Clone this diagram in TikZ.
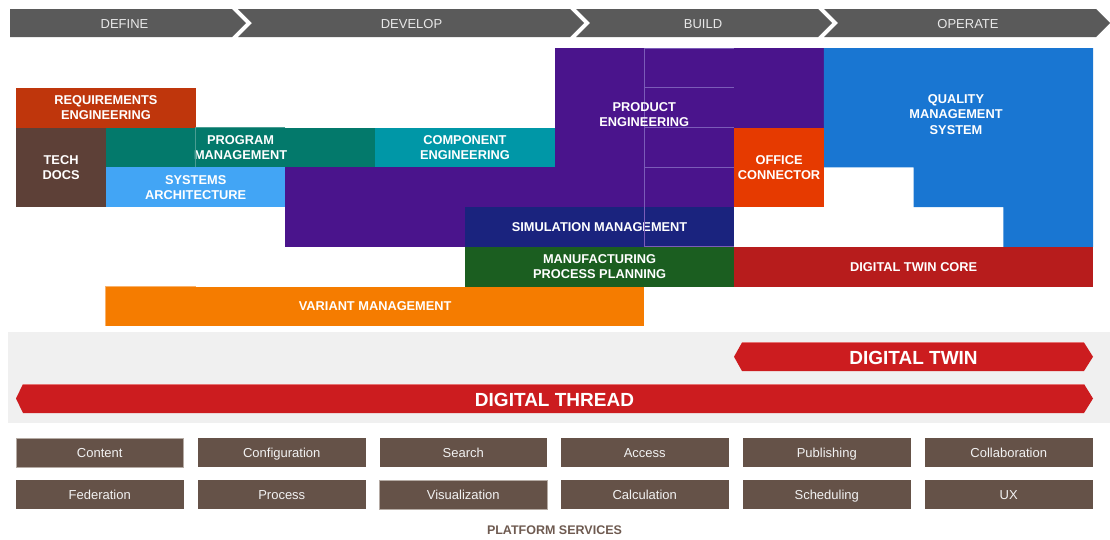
\documentclass[tikz,border=0pt]{standalone}
\usepackage{fontspec}
\setmainfont{Liberation Sans}
\definecolor{banner}{HTML}{5A5A5A}
\definecolor{phasetxt}{HTML}{E8E8E8}
\definecolor{reqc}{HTML}{BF360C}
\definecolor{techc}{HTML}{5D4037}
\definecolor{progc}{HTML}{03796B}
\definecolor{progline}{HTML}{4A9D92}
\definecolor{compc}{HTML}{0097A7}
\definecolor{sysc}{HTML}{42A5F5}
\definecolor{purc}{HTML}{4A148C}
\definecolor{purline}{HTML}{7B5CB8}
\definecolor{officec}{HTML}{E63A00}
\definecolor{qmsc}{HTML}{1976D2}
\definecolor{simc}{HTML}{1A237E}
\definecolor{manc}{HTML}{1B5E20}
\definecolor{dtcc}{HTML}{B71C1C}
\definecolor{varc}{HTML}{F57C00}
\definecolor{varline}{HTML}{F9B26B}
\definecolor{arrowred}{HTML}{CC1C1F}
\definecolor{arrowtop}{HTML}{E57373}
\definecolor{panelc}{HTML}{F0F0F0}
\definecolor{svcc}{HTML}{655248}
\definecolor{svcline}{HTML}{B5ABA4}
\definecolor{svctxt}{HTML}{F2F2F2}
\definecolor{footc}{HTML}{6E5A50}
\tikzset{
  phase/.style={text=phasetxt, font=\fontsize{13}{15}\selectfont, inner sep=0pt, text height=9.3pt, text depth=0pt},
  lbl/.style={text=white, font=\bfseries\fontsize{12.8}{15.3}\selectfont, align=center, inner sep=0pt},
  blockbox/.style={lbl, anchor=north west},
  bigarrow/.style={fill=arrowred},
  bigtext/.style={text=white, font=\bfseries\fontsize{19}{21}\selectfont, inner sep=0pt},
  svc/.style={fill=svcc, text=svctxt, font=\fontsize{13}{15}\selectfont, minimum width=167.5pt, minimum height=29pt, inner sep=0pt, text height=9.3pt, text depth=0pt},
  gridline/.style={draw=purline, line width=0.8pt},
}
\newcommand\cell[7]{% name, x1, y1, x2, y2, colour, text
  \node[blockbox, fill=#6, minimum width={(#4-#2)*1pt}, minimum height={(#5-#3)*1pt}] (#1) at (#2,#3) {#7};
}
\begin{document}
\begin{tikzpicture}[x=1pt,y=-1pt]
\useasboundingbox (0,0) rectangle (1110,539);

% ---- phase banner
\fill[banner] (10,9) -- (232,9) -- (246,23) -- (232,37) -- (10,37) -- cycle;
\fill[banner] (238,9) -- (570,9) -- (584,23) -- (570,37) -- (238,37) -- (252,23) -- cycle;
\fill[banner] (576,9) -- (818,9) -- (832,23) -- (818,37) -- (576,37) -- (590,23) -- cycle;
\fill[banner] (824,9) -- (1096,9) -- (1110,23) -- (1096,37) -- (824,37) -- (838,23) -- cycle;
\node[phase] (define) at (124.5,23.5) {DEFINE};
\node[phase] (develop) at (411.5,23.5) {DEVELOP};
\node[phase] (build) at (703,23.5) {BUILD};
\node[phase] (operate) at (968,23.5) {OPERATE};

% ---- purple product engineering region
\fill[purc] (554.5,48) rectangle (734,207);
\fill[purc] (734,48) rectangle (823.75,127.5);
\fill[purc] (285.25,167.25) rectangle (554.5,246.75);

% ---- quality management region
\fill[qmsc] (823.75,48) -- (1093,48) -- (1093,246.75) -- (1003.25,246.75) -- (1003.25,207)
  -- (913.5,207) -- (913.5,167.25) -- (823.75,167.25) -- cycle;
\node[lbl] (qms) at (956,114.5) {QUALITY\\MANAGEMENT\\SYSTEM};

% ---- blocks
\cell{req}{16}{87.75}{195.5}{127.5}{reqc}{REQUIREMENTS\\ENGINEERING}
\cell{tech}{16}{127.5}{105.75}{207}{techc}{TECH\\DOCS}
\cell{prog}{105.75}{127.5}{375}{167.25}{progc}{PROGRAM\\MANAGEMENT}
\cell{comp}{375}{127.5}{554.5}{167.25}{compc}{COMPONENT\\ENGINEERING}
\cell{sys}{105.75}{167.25}{285.25}{207}{sysc}{SYSTEMS\\ARCHITECTURE}
\cell{office}{734}{127.5}{823.75}{207}{officec}{OFFICE\\CONNECTOR}
\cell{sim}{464.75}{207}{734}{246.75}{simc}{SIMULATION MANAGEMENT}
\cell{man}{464.75}{246.75}{734}{286.5}{manc}{MANUFACTURING\\PROCESS PLANNING}
\cell{dtc}{734}{246.75}{1093}{286.5}{dtcc}{DIGITAL TWIN CORE}
\cell{var}{105.75}{286.5}{644.25}{326.25}{varc}{VARIANT MANAGEMENT}

% faint cell outlines
\draw[gridline] (644.25,48) -- (644.25,246.75);
\foreach \yy in {48,87.75,127.5,167.25,246.75}
  \draw[gridline] (644.25,\yy) -- (734,\yy);
\draw[draw=progline, line width=0.8pt] (285.25,127.5) -- (195.5,127.5) -- (195.5,167.25);
\draw[draw=varline, line width=0.8pt] (195.5,286.5) -- (105.75,286.5) -- (105.75,326.25);

\node[lbl] (prod) at (644.25,114.5) {PRODUCT\\ENGINEERING};

% ---- digital twin / thread panel
\fill[panelc] (8,332) rectangle (1110,423);
\fill[bigarrow] (734,356.75) -- (742,342.5) -- (1084,342.5) -- (1093,356.75) -- (1084,371) -- (742,371) -- cycle;
\draw[arrowtop, line width=0.8pt] (742,342.8) -- (1084,342.8);
\node[bigtext] (twin) at (913.5,357.5) {DIGITAL TWIN};
\fill[bigarrow] (16,398.5) -- (23,384) -- (1084,384) -- (1093,398.5) -- (1084,413) -- (23,413) -- cycle;
\draw[arrowtop, line width=0.8pt] (23,384.3) -- (1084,384.3);
\node[bigtext] (thread) at (554.5,399.5) {DIGITAL THREAD};

% ---- platform services
\node[svc, draw=svcline, line width=0.6pt] (content) at (99.75,452.5) {Content};
\node[svc] (config) at (281.75,452.5) {Configuration};
\node[svc] (search) at (463.25,452.5) {Search};
\node[svc] (access) at (644.75,452.5) {Access};
\node[svc] (publish) at (826.75,452.5) {Publishing};
\node[svc] (collab) at (1008.75,452.5) {Collaboration};
\node[svc] (fed) at (99.75,494.5) {Federation};
\node[svc] (process) at (281.75,494.5) {Process};
\node[svc, draw=svcline, line width=0.6pt] (visual) at (463.25,494.5) {Visualization};
\node[svc] (calc) at (644.75,494.5) {Calculation};
\node[svc] (sched) at (826.75,494.5) {Scheduling};
\node[svc] (ux) at (1008.75,494.5) {UX};
\node[text=footc, font=\bfseries\fontsize{12.5}{14}\selectfont, inner sep=0pt] (platform) at (554.5,530.5) {PLATFORM SERVICES};
\end{tikzpicture}
\end{document}
